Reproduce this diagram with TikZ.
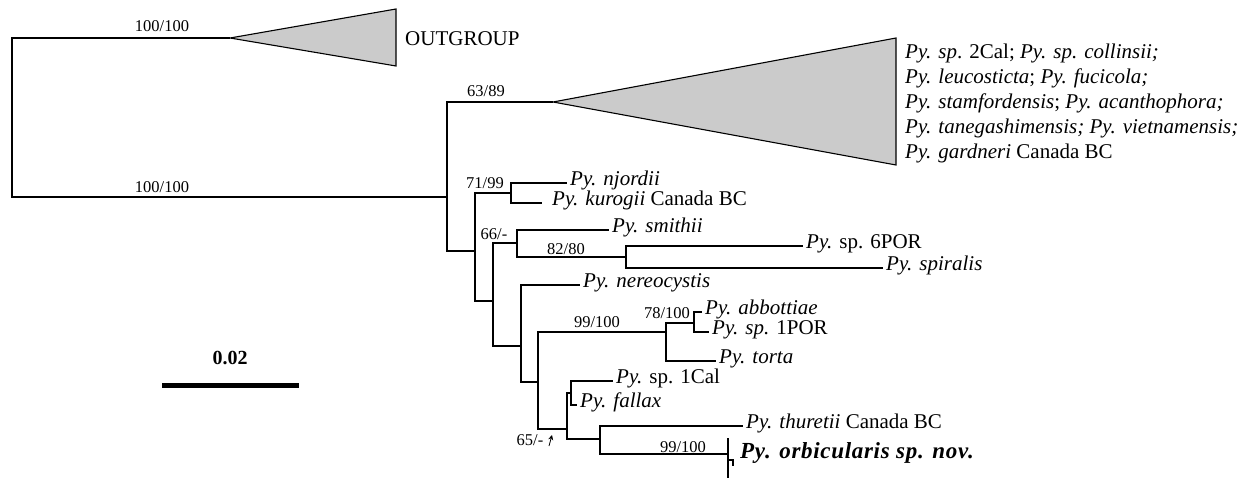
\documentclass[tikz,border=0pt]{standalone}
\usepackage{fontspec}
\setmainfont{Liberation Serif}
\usetikzlibrary{arrows.meta}
\definecolor{cgray}{HTML}{CBCBCB}

\begin{document}
\begin{tikzpicture}[x=1pt, y=-1pt,
  br/.style={line width=1.1pt},
  clade/.style={draw, fill=cgray, line width=1.1pt},
  tip/.style={anchor=mid west, inner sep=0pt, inner xsep=3pt, font=\fontsize{21}{25}\selectfont},
  supp/.style={anchor=base, inner sep=0pt, font=\fontsize{16.5}{19}\selectfont}]
\useasboundingbox (0,0) rectangle (1247,478);
% internal nodes: x of the node, y where the parent branch comes in
\coordinate (root) at (12,117);
\coordinate (nA) at (447,197);
\coordinate (nB) at (475,251);
\coordinate (nC) at (511,193);
\coordinate (nD) at (493,301);
\coordinate (nE) at (517,243);
\coordinate (nF) at (626,257);
\coordinate (nG) at (521,346);
\coordinate (nH) at (538,382);
\coordinate (nI) at (666,332);
\coordinate (nJ) at (694,323);
\coordinate (nK) at (567,429);
\coordinate (nL) at (571,393);
\coordinate (nM) at (600,439);
\coordinate (nN) at (728,454);
% collapsed clades
\coordinate (outApex) at (230,38);
\coordinate (bigApex) at (553,102);
\draw[clade] (outApex) -- (396,9) -- (396,66) -- cycle;
\draw[clade] (bigApex) -- (896,38) -- (896,165) -- cycle;
\node[tip, anchor=base west, inner xsep=0pt] (outgroup) at (405,46) {OUTGROUP};
\node[tip, anchor=west, align=left, inner xsep=0pt, font=\fontsize{21}{25}\selectfont] (bigclade) at (905,103)
  {\textit{Py. sp}. 2Cal; \textit{Py. sp. collinsii;}\\
   \textit{Py. leucosticta}; \textit{Py. fucicola;}\\
   \textit{Py. stamfordensis}; \textit{Py. acanthophora;}\\
   \textit{Py. tanegashimensis; Py. vietnamensis;}\\
   \textit{Py. gardneri} Canada BC};
% tips
\node[tip] (njordii) at (567,183) {\textit{Py. njordii}};
\coordinate (kurogiiEnd) at (542,203);
\node[tip] (kurogii) at (549,203) {\textit{Py. kurogii} Canada BC};
\node[tip] (smithii) at (609,230) {\textit{Py. smithii}};
\node[tip] (sixPOR) at (803,246) {\textit{Py.} sp. 6POR};
\node[tip] (spiralis) at (883,268) {\textit{Py. spiralis}};
\node[tip] (nereocystis) at (580,285) {\textit{Py. nereocystis}};
\node[tip] (abbottiae) at (702,312) {\textit{Py. abbottiae}};
\node[tip] (onePOR) at (709,332) {\textit{Py. sp.} 1POR};
\node[tip] (torta) at (716,361) {\textit{Py. torta}};
\node[tip] (oneCal) at (613,381) {\textit{Py.} sp. 1Cal};
\node[tip] (fallax) at (577,405) {\textit{Py. fallax}};
\node[tip] (thuretii) at (743,426) {\textit{Py. thuretii} Canada BC};
\node[tip, font=\fontsize{23}{27}\selectfont] (orbicularis) at (737,456)
  {\addfontfeatures{LetterSpace=3}\textbf{\textit{Py. orbicularis sp. nov.}}};
% branches
\draw[br] (root) |- (outApex);
\draw[br] (root) |- (nA);
\draw[br] (nA) |- (bigApex);
\draw[br] (nA) |- (nB);
\draw[br] (nB) |- (nC);
\draw[br] (nB) |- (nD);
\draw[br] (nC) |- (njordii.mid west);
\draw[br] (nC) |- (kurogiiEnd);
\draw[br] (nD) |- (nE);
\draw[br] (nD) |- (nG);
\draw[br] (nE) |- (smithii.mid west);
\draw[br] (nE) |- (nF);
\draw[br] (nF) |- (sixPOR.mid west);
\draw[br] (nF) |- (spiralis.mid west);
\draw[br] (nG) |- (nereocystis.mid west);
\draw[br] (nG) |- (nH);
\draw[br] (nH) |- (nI);
\draw[br] (nH) |- (nK);
\draw[br] (nI) |- (nJ);
\draw[br] (nI) |- (torta.mid west);
\draw[br] (nJ) |- (abbottiae.mid west);
\draw[br] (nJ) |- (onePOR.mid west);
\draw[br] (nK) |- (nL);
\draw[br] (nK) |- (nM);
\draw[br] (nL) |- (oneCal.mid west);
\draw[br] (nL) |- (fallax.mid west);
\draw[br] (nM) |- (thuretii.mid west);
\draw[br] (nM) |- (nN);
\coordinate (orbTop) at (728,438);
\coordinate (orbBot) at (728,478);
\coordinate (orbStub) at (733,466);
\draw[br] (orbTop) -- (orbBot);
\draw[br] (nN) ++(0,6) -| (orbStub);
% support values
\node[supp] (s1) at (162,32) {100/100};
\node[supp] (s2) at (162,193) {100/100};
\node[supp] (s3) at (486,97) {63/89};
\node[supp] (s4) at (485,189) {71/99};
\node[supp] (s5) at (494,240) {66/-};
\node[supp] (s6) at (566,255) {82/80};
\node[supp] (s7) at (597,327) {99/100};
\node[supp] (s8) at (667,318) {78/100};
\node[supp] (s9) at (530,445) {65/-};
\node[supp] (s10) at (683,452) {99/100};
\coordinate (arrTail) at (549,446);
\coordinate (arrHead) at (552,435);
\draw[-{Stealth[length=5pt,width=5pt]}, line width=0.8pt] (arrTail) -- (arrHead);
% scale bar
\coordinate (barL) at (162,385);
\coordinate (barR) at (299,385);
\draw[line width=5pt] (barL) -- (barR);
\node[anchor=base, inner sep=0pt, font=\bfseries\fontsize{20}{24}\selectfont] (barlab) at (230,364) {0.02};
\end{tikzpicture}
\end{document}
